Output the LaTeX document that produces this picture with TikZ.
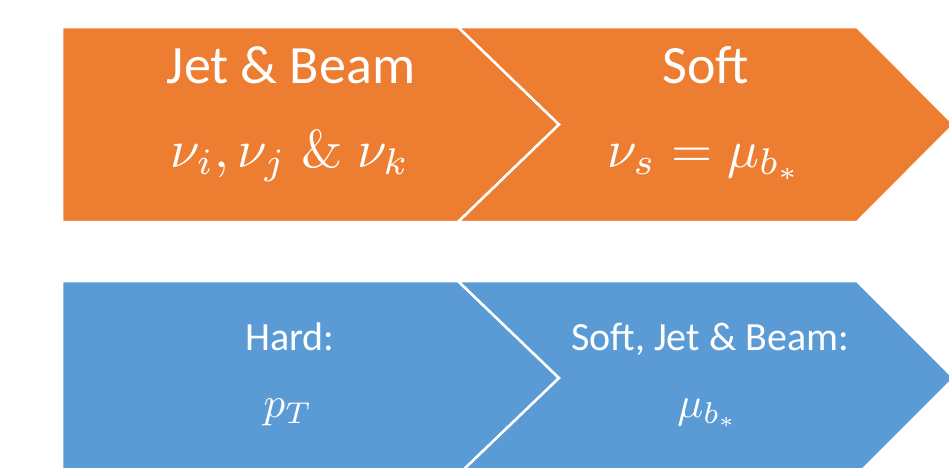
\documentclass[tikz,border=0pt]{standalone}
\usepackage[no-math]{fontspec}
\usepackage{graphicx}
\setmainfont{Carlito}
\definecolor{orng}{HTML}{ED7D31}
\definecolor{blu}{HTML}{5B9BD5}
\newcommand{\bigmath}[1]{\scalebox{5.3}{$#1$}}
\newcommand{\smallmath}[1]{\scalebox{4.3}{$#1$}}
\tikzset{
  seg/.style={draw=white, line width=2.5pt, line join=miter},
  lab/.style={text=white, anchor=base, inner sep=0pt},
  bigtxt/.style={font=\fontsize{54}{60}\selectfont},
  smalltxt/.style={font=\fontsize{40}{46}\selectfont},
}
\begin{document}
\begin{tikzpicture}[x=1pt,y=-1pt]
\clip (0,0) rectangle (949,467);
\fill[white] (0,0) rectangle (949,467);
% top row
\filldraw[seg, fill=orng] (62,27) -- (458,27) -- (559,124.5) -- (458,222) -- (62,222) -- cycle;
\filldraw[seg, fill=orng] (458,27) -- (857,27) -- (954,124.5) -- (857,222) -- (458,222) -- (559,124.5) -- cycle;
% bottom row
\filldraw[seg, fill=blu] (62,281) -- (458,281) -- (559,378) -- (458,475) -- (62,475) -- cycle;
\filldraw[seg, fill=blu] (458,281) -- (857,281) -- (954,378) -- (857,475) -- (458,475) -- (559,378) -- cycle;
% labels
\node[lab, bigtxt] (t1) at (291,83) {Jet \& Beam};
\node[lab] (t2) at (290,167) {\bigmath{\nu_i,\nu_j\;\&\;\nu_k}};
\node[lab, bigtxt] (t3) at (706,83) {Soft};
\node[lab] (t4) at (705,167) {\bigmath{\nu_s=\mu_{b_*}}};
\node[lab, smalltxt] (b1) at (290,350) {Hard:};
\node[lab] (b2) at (288,417) {\smallmath{p_T}};
\node[lab, smalltxt] (b3) at (710,350) {Soft, Jet \& Beam:};
\node[lab] (b4) at (708,417) {\smallmath{\mu_{b_*}}};
\end{tikzpicture}
\end{document}
